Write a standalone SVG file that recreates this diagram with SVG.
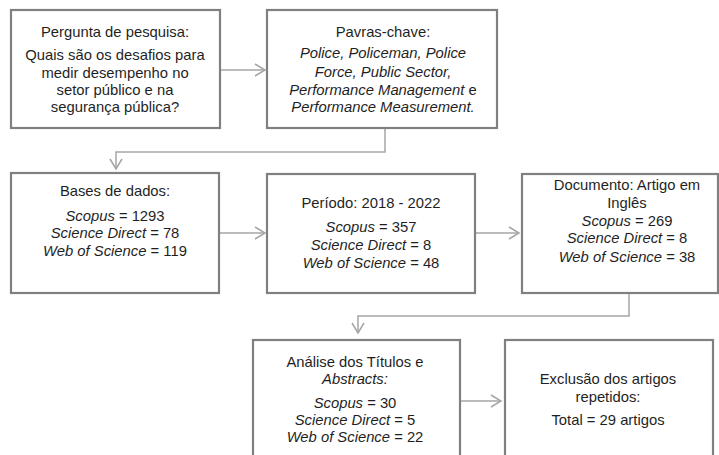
<svg xmlns="http://www.w3.org/2000/svg" width="719" height="455" viewBox="0 0 719 455">
<defs>
<style>
.box{fill:#fff;stroke:#808080;stroke-width:2.2}
.t{font-family:"Liberation Sans",Arial,sans-serif;font-size:14.8px;fill:#1f1f1f;text-anchor:middle}
.i{font-style:italic}
.c{fill:none;stroke:#a6a6a6;stroke-width:1.5}
</style>
<marker id="ah" markerWidth="14" markerHeight="14" refX="12" refY="7" orient="auto" markerUnits="userSpaceOnUse">
<path d="M2,1 L12,7 L2,13" fill="none" stroke="#a6a6a6" stroke-width="1.5"/>
</marker>
</defs>
<rect width="719" height="455" fill="#fff"/>
<g id="connectors">
<line class="c" x1="221" y1="70" x2="265" y2="70" marker-end="url(#ah)"/>
<polyline class="c" points="385,129 385,152 116,152 116,169" marker-end="url(#ah)"/>
<line class="c" x1="220" y1="233" x2="265" y2="233" marker-end="url(#ah)"/>
<line class="c" x1="476" y1="233" x2="519" y2="233" marker-end="url(#ah)"/>
<polyline class="c" points="629,294 629,316 358,316 358,333" marker-end="url(#ah)"/>
<line class="c" x1="461" y1="401" x2="501" y2="401" marker-end="url(#ah)"/>
</g>
<g id="n1">
<rect class="box" x="11" y="10" width="209" height="118"/>
<text class="t" x="115" y="37">Pergunta de pesquisa:</text>
<text class="t" x="115" y="60">Quais são os desafios para</text>
<text class="t" x="115" y="78">medir desempenho no</text>
<text class="t" x="115" y="95">setor público e na</text>
<text class="t" x="115" y="112">segurança pública?</text>
</g>
<g id="n2">
<rect class="box" x="267" y="10" width="230" height="118"/>
<text class="t" x="383" y="37">Pavras-chave:</text>
<text class="t i" x="383" y="58">Police, Policeman, Police</text>
<text class="t i" x="383" y="77">Force, Public Sector,</text>
<text class="t" x="383" y="95"><tspan class="i">Performance Management</tspan> e</text>
<text class="t i" x="383" y="112">Performance Measurement.</text>
</g>
<g id="n3">
<rect class="box" x="11" y="173" width="208" height="120"/>
<text class="t" x="115" y="196">Bases de dados:</text>
<text class="t" x="115" y="221"><tspan class="i">Scopus</tspan> = 1293</text>
<text class="t" x="115" y="238"><tspan class="i">Science Direct</tspan> = 78</text>
<text class="t" x="115" y="256"><tspan class="i">Web of Science</tspan> = 119</text>
</g>
<g id="n4">
<rect class="box" x="267" y="174" width="208" height="119"/>
<text class="t" x="371" y="208">Período: 2018 - 2022</text>
<text class="t" x="371" y="232"><tspan class="i">Scopus</tspan> = 357</text>
<text class="t" x="371" y="250"><tspan class="i">Science Direct</tspan> = 8</text>
<text class="t" x="371" y="268"><tspan class="i">Web of Science</tspan> = 48</text>
</g>
<g id="n5">
<rect class="box" x="522" y="174" width="196" height="119"/>
<text class="t" x="627" y="190">Documento: Artigo em</text>
<text class="t" x="627" y="208">Inglês</text>
<text class="t" x="627" y="226"><tspan class="i">Scopus</tspan> = 269</text>
<text class="t" x="627" y="243"><tspan class="i">Science Direct</tspan> = 8</text>
<text class="t" x="627" y="262"><tspan class="i">Web of Science</tspan> = 38</text>
</g>
<g id="n6">
<rect class="box" x="253" y="340" width="207" height="130"/>
<text class="t" x="355" y="367">Análise dos Títulos e</text>
<text class="t i" x="355" y="384">Abstracts:</text>
<text class="t" x="355" y="408"><tspan class="i">Scopus</tspan> = 30</text>
<text class="t" x="355" y="425"><tspan class="i">Science Direct</tspan> = 5</text>
<text class="t" x="355" y="442"><tspan class="i">Web of Science</tspan> = 22</text>
</g>
<g id="n7">
<rect class="box" x="505" y="340" width="208" height="130"/>
<text class="t" x="608" y="384">Exclusão dos artigos</text>
<text class="t" x="608" y="402">repetidos:</text>
<text class="t" x="608" y="425">Total = 29 artigos</text>
</g>
</svg>
